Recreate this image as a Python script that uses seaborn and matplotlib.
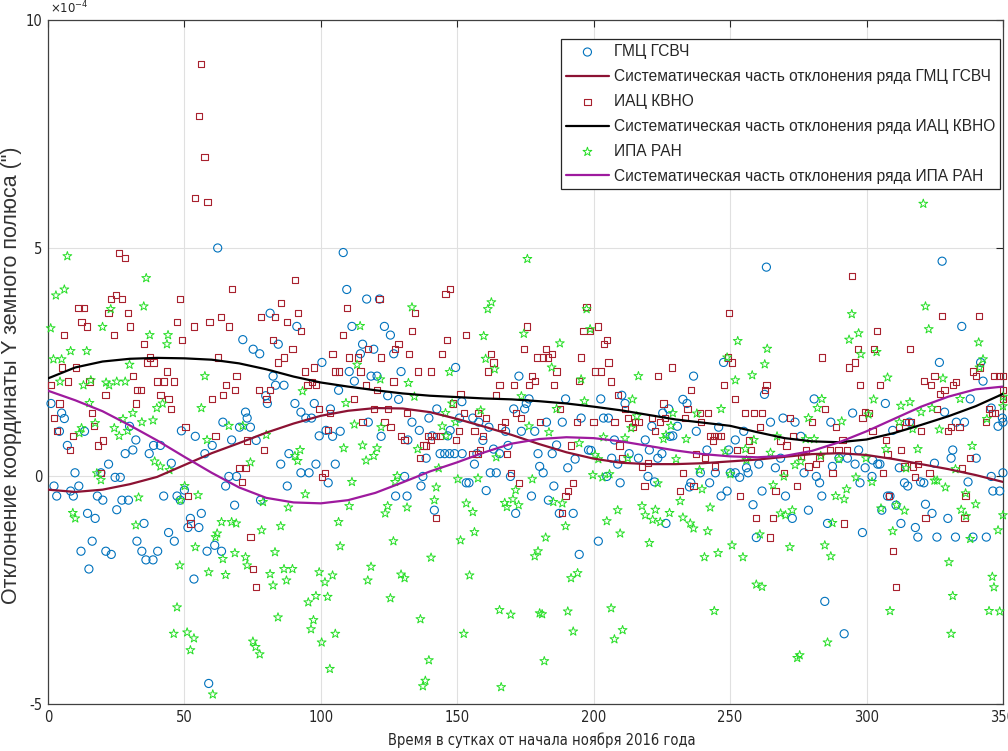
import matplotlib
matplotlib.use("Agg")
import matplotlib.pyplot as plt
import seaborn as sns
from matplotlib import font_manager

# ---------------- data (values in units of 1e-4 arcsec) ----------------
gmc_day = [1.1, 5.0, 6.0, 4.2, 13.4, 7.1, 2.2, 3.2, 8.3, 9.3, 9.9, 11.3, 22.2, 19.4, 24.6, 26.5, 18.1, 20.1, 27.1, 29.5,
           25.2, 14.5, 17.3, 12.1, 16.2, 21.2, 23.2, 15.0, 32.6, 34.4, 35.9, 38.5, 40.2, 35.2, 42.4, 28.3, 31.1, 32.2, 37.1, 38.7,
           41.2, 29.9,
           62.2, 71.4, 75.2, 77.6, 81.4, 84.4, 82.5, 83.4, 86.5, 79.8, 80.4, 72.4, 73.0, 64.1, 70.2, 74.2, 48.9, 54.0, 60.2, 67.3,
           76.3, 57.5, 45.2, 85.3, 88.3, 66.3, 69.1, 65.1, 87.7, 47.3, 48.5, 50.0, 68.4, 77.9, 56.2, 52.2, 51.3, 55.3, 44.2, 46.3,
           58.3, 61.1, 63.6, 53.5, 58.9,
           108.2, 109.5, 116.8, 121.5, 111.4, 91.2, 123.3, 125.5, 115.3, 119.4, 114.5, 126.7, 100.4, 110.4, 129.4, 118.4, 120.6,
           112.3, 106.5, 124.5, 128.5, 90.5, 97.6, 92.7, 94.5, 96.6, 103.5, 133.4, 117.4, 101.9, 107.1, 99.4, 104.3, 122.1, 131.9,
           98.2, 105.3, 92.7, 95.7, 102.7, 130.7, 127.4, 131.6,
           149.4, 172.6, 176.3, 170.7, 174.7, 175.3, 142.5, 139.6, 151.7, 150.8, 155.7, 157.9, 147.4, 146.5, 161.6, 159.4, 167.7,
           173.5, 178.4, 136.1, 140.8, 138.6, 143.7, 145.4, 147.2, 149.0, 151.8, 157.2, 156.3, 163.3, 168.6, 165.5, 179.6, 162.1,
           164.3, 153.3, 154.3, 169.5, 180.2, 136.7, 137.4, 160.6, 177.2, 141.6, 171.4,
           189.7, 202.6, 210.3, 211.5, 225.3, 182.7, 188.5, 195.4, 203.6, 205.4, 221.3, 186.4, 184.8, 193.2, 198.1, 199.0, 207.6,
           218.9, 220.4, 213.0, 206.6, 208.8, 216.4, 223.5, 225.0, 190.5, 181.5, 204.8, 209.7, 219.9, 222.3, 185.4, 183.4, 187.4,
           192.5, 226.5, 201.7, 194.7,
           263.3, 247.6, 236.6, 262.6, 232.7, 234.2, 227.5, 230.7, 229.0, 237.6, 245.8, 255.0, 264.8, 269.4, 251.9, 241.5, 249.5,
           228.0, 239.1, 244.6, 250.1, 253.5, 256.6, 256.0, 251.9, 260.5, 266.6, 268.5, 242.5, 235.6, 235.1, 248.9, 246.7, 261.7,
           270.3, 258.4, 272.8, 259.6,
           280.8, 294.9, 306.9, 273.8, 286.9, 275.9, 315.7, 309.6, 297.1, 287.5, 277.1, 289.9, 293.0, 295.8, 299.5, 302.2, 304.1,
           304.9, 312.0, 281.6, 282.8, 297.6, 302.0, 313.9, 315.1, 283.6, 307.7, 308.6, 310.8, 305.6, 278.7, 285.7, 312.6, 317.9,
           318.8, 298.5, 284.7, 291.8,
           327.7, 334.9, 326.7, 341.8, 342.7, 338.0, 328.6, 332.9, 335.9, 345.7, 349.8, 348.2, 350.0, 331.6, 331.0, 340.2, 324.9,
           319.8, 321.0, 337.2, 345.7, 346.3, 348.8, 350.0, 321.6, 324.0, 329.8, 325.8, 332.6, 339.0, 343.9]
gmc_val = [1.59, 1.38, 1.26, 0.98, 0.98, 0.67, -0.22, -0.44, -0.33, -0.44, 0.07, -0.22, 0.26, 0.07, -0.03, -0.03, -0.44, -0.53, -0.53, -0.53,
           -0.74, -0.82, -0.93, -1.65, -1.43, -1.65, -1.72, -2.04, -1.43, -1.65, -1.84, -1.84, -1.65, -1.04, -0.44, 0.49, 0.57, 0.79, 0.49, 0.67,
           0.67, 1.09,
           5.0, 2.99, 2.78, 2.68, 3.57, 2.89, 2.19, 1.99, 1.99, 1.76, 1.59, 1.40, 1.27, 1.18, 1.07, 1.07, 0.99, 0.87, 0.67, 0.79,
           0.78, 0.49, 0.28, 0.26, 0.49, -0.01, -0.01, -0.22, -0.22, -0.44, -0.53, -0.31, -0.64, -0.53, -0.82, -0.93, -1.13, -1.13, -1.24, -1.43,
           -1.65, -1.52, -1.65, -2.26, -4.55,
           4.90, 4.09, 3.88, 3.88, 3.28, 3.28, 3.28, 3.09, 2.89, 2.78, 2.68, 2.68, 2.49, 2.29, 2.29, 2.19, 2.19,
           2.08, 1.88, 1.76, 1.68, 1.59, 1.59, 1.40, 1.27, 1.27, 1.47, 1.18, 1.18, 1.00, 0.98, 0.88, 0.87, 0.87, 0.79,
           0.26, 0.26, 0.07, 0.07, -0.15, -0.01, -0.44, -0.44,
           2.38, 2.19, 1.69, 1.47, 1.47, 1.59, 1.47, 1.27, 1.63, 1.27, 1.27, 1.18, 1.00, 0.88, 1.07, 0.78, 0.98,
           0.98, 0.98, 1.00, 0.88, 0.39, 0.49, 0.49, 0.49, 0.49, 0.49, 0.49, 0.26, 0.59, 0.67, 0.49, 0.49, 0.07,
           0.07, -0.15, -0.15, -0.01, 0.21, -0.22, -0.01, -0.32, -0.44, -0.75, -0.82,
           1.69, 1.69, 1.77, 1.59, 1.38, 1.18, 1.18, 1.27, 1.27, 1.27, 1.09, 0.68, 0.49, 0.37, 0.57, 0.56, 0.79,
           0.79, 0.57, 0.49, 0.39, 0.26, 0.39, 0.39, 0.49, 0.18, 0.07, -0.01, -0.15, -0.01, -0.13, -0.22, -0.53, -0.82,
           -0.82, -1.04, -1.43, -1.72,
           4.58, 2.49, 2.19, 1.79, 1.68, 1.59, 1.47, 1.09, 0.88, 0.98, 1.07, 0.98, 1.18, 1.27, 0.79, 0.57, 0.57,
           0.87, 0.07, 0.07, 0.07, -0.03, 0.07, 0.18, 0.07, 0.26, 0.18, 0.39, -0.15, -0.15, -0.24, -0.33, -0.44, -0.33,
           -0.44, -0.63, -0.93, -1.35,
           1.69, 1.38, 1.59, 1.18, 1.18, 0.87, 1.18, 1.00, 0.57, 0.21, 0.07, 0.39, 0.39, 0.26, 0.18, 0.35, 0.26,
           0.26, 0.18, -0.01, -0.15, -0.15, -0.01, -0.15, -0.22, -0.44, -0.44, -0.44, -0.64, -0.75, -0.75, -1.04, -1.04, -1.13,
           -1.34, -1.24, -2.75, -3.46,
           4.71, 3.28, 2.49, 2.49, 2.08, 1.69, 1.40, 1.18, 1.18, 1.49, 1.27, 1.09, 1.18, 0.57, 0.39, 0.39, 0.28,
           -0.13, -0.15, -0.13, -0.01, -0.33, -0.33, 0.07, -0.62, -0.82, -0.93, -1.34, -1.34, -1.34, -1.34]

iac_day = [56.2, 55.3, 57.4, 54.0, 58.5,
           26.1, 28.3, 25.0, 23.2, 27.1, 11.2, 13.2, 22.2, 29.4, 12.3, 14.3, 30.2, 6.0, 24.3, 35.1, 37.3, 36.3, 38.7, 5.0, 10.2,
           31.1, 1.1, 7.2, 15.2, 39.9, 42.4, 32.6, 34.1, 21.1, 41.2, 4.2, 32.2, 16.1, 2.2, 16.9, 3.2, 9.3, 20.1, 18.3, 8.2, 19.4,
           67.3, 48.3, 85.3, 47.3, 53.5, 59.2, 63.3, 66.3, 78.0, 83.2, 87.5, 49.1, 82.5, 62.4, 86.5, 84.4, 69.1, 65.3, 43.6, 46.3,
           44.2, 45.2, 68.5, 64.1, 60.2, 77.3, 81.4, 80.1, 50.4, 61.4, 73.0, 79.3, 70.2, 72.4, 71.2, 51.3, 52.2, 74.2, 75.2, 76.1,
           90.5, 91.5, 92.7, 89.6, 109.5, 121.5, 134.6, 108.2, 133.4, 128.5, 127.2, 117.4, 132.3, 104.3, 122.1, 110.4, 113.5, 97.6,
           94.3, 105.2, 106.8, 114.5, 95.1, 98.2, 96.7, 116.6, 120.6, 126.6, 112.3, 99.4, 103.5, 119.4, 124.5, 131.5, 115.3, 123.3,
           125.5, 102.5, 129.4, 130.7, 101.5, 100.4,
           145.7, 147.4, 146.3, 153.3, 144.5, 175.7, 174.6, 162.5, 163.3, 161.2, 179.3, 135.5, 140.4, 177.4, 178.4, 165.5, 170.7,
           176.3, 151.2, 164.3, 148.4, 157.6, 152.4, 171.4, 173.5, 160.6, 167.4, 166.2, 156.3, 150.5, 149.4, 159.4, 180.2, 139.4,
           142.3, 143.7, 140.4, 137.6, 138.6, 136.4, 158.4, 155.4, 157.6, 168.2, 169.8, 172.5, 142.3,
           197.4, 201.7, 196.3, 198.7, 204.8, 203.7, 182.4, 184.6, 183.4, 181.5, 195.4, 205.4, 186.4, 200.5, 202.7, 194.6, 206.4,
           185.4, 223.5, 208.8, 187.6, 211.5, 225.6, 212.5, 216.4, 215.2, 221.3, 224.4, 226.2, 193.8, 199.9, 207.6, 214.2, 222.6,
           191.7, 209.5, 210.3, 217.7, 219.9, 192.5, 190.5, 189.7, 188.3, 218.6,
           249.5, 228.8, 249.1, 250.7, 247.9, 263.3, 262.7, 235.6, 251.7, 234.4, 239.1, 241.8, 255.6, 258.7, 261.7, 233.5, 239.4,
           260.9, 271.9, 242.5, 244.0, 245.6, 246.8, 243.7, 256.8, 252.5, 257.8, 268.5, 270.7, 237.6, 240.9, 244.6, 232.7, 236.6,
           231.7, 269.7, 266.6, 253.5, 259.6, 265.8, 264.5,
           294.6, 303.7, 296.9, 302.6, 315.9, 283.6, 295.8, 293.6, 297.7, 304.9, 284.7, 299.5, 300.7, 279.9, 298.5, 288.7, 316.3,
           312.0, 314.5, 302.2, 307.1, 291.2, 273.0, 277.7, 286.5, 289.7, 292.7, 312.6, 307.7, 275.9, 282.8, 281.6, 278.7, 318.8,
           316.9, 313.9, 287.5, 305.9, 317.9, 274.6, 308.3, 291.8, 309.8, 310.8,
           327.7, 341.1, 339.0, 341.7, 340.0, 324.9, 321.0, 323.7, 332.9, 331.6, 328.6, 327.0, 346.8, 348.5, 350.0, 350.0, 350.0,
           325.8, 344.9, 346.0, 347.0, 343.9, 320.0, 329.8, 331.0, 334.1, 338.0, 323.1, 334.9, 336.3, 321.6, 335.9]
iac_val = [9.03, 7.90, 7.00, 6.09, 6.01,
           4.89, 4.78, 3.97, 3.88, 3.88, 3.68, 3.68, 3.57, 3.57, 3.38, 3.28, 3.28, 3.09, 3.09, 2.89, 2.60, 2.49, 2.49, 2.38, 2.38,
           2.19, 1.99, 2.07, 2.07, 2.07, 2.07, 1.88, 1.88, 1.77, 1.77, 1.59, 1.59, 1.38, 1.27, 1.09, 0.98, 0.87, 0.78, 0.67, 0.57, 0.07,
           4.10, 3.88, 3.79, 3.38, 3.28, 3.38, 3.48, 3.28, 3.48, 3.48, 3.38, 2.98, 2.98, 2.60, 2.60, 2.49, 2.19, 1.99, 2.29, 2.07,
           1.68, 1.47, 1.88, 1.77, 1.68, 1.88, 1.88, 1.68, 1.07, 0.87, 0.78, 0.57, 0.18, 0.18, -0.13, -0.44, -1.04, -1.34, -2.04, -2.44,
           4.29, 3.57, 3.18, 2.78, 3.68, 3.88, 3.57, 3.09, 3.18, 2.89, 2.78, 2.78, 2.68, 2.68, 2.60, 2.60, 2.60, 2.38,
           2.29, 2.29, 2.29, 2.29, 1.99, 1.99, 2.06, 1.99, 1.88, 2.07, 1.68, 1.47, 1.38, 1.47, 1.47, 1.38, 1.18, 1.18,
           1.07, 1.00, 0.87, 0.79, 0.07, -0.03,
           3.99, 4.10, 2.98, 3.09, 2.68, 3.28, 2.78, 2.68, 2.49, 2.29, 2.60, 2.29, 2.29, 2.19, 2.08, 1.99, 1.99,
           1.99, 1.79, 1.77, 1.59, 1.38, 1.38, 1.38, 1.27, 1.27, 1.18, 1.07, 0.98, 0.98, 0.79, 0.87, 1.18, 0.88,
           0.88, 0.88, 0.79, 0.67, 0.67, 0.39, 0.57, 0.49, 0.49, 0.49, 0.07, -0.15, -0.93,
           3.70, 3.28, 3.18, 3.18, 2.98, 2.89, 2.78, 2.68, 2.60, 2.60, 2.60, 2.49, 2.29, 2.29, 2.29, 2.08, 2.07,
           1.99, 2.19, 1.77, 1.47, 1.47, 1.59, 1.27, 1.18, 1.18, 1.27, 1.18, 1.27, 1.18, 1.18, 1.18, 1.07, 0.98,
           0.67, 0.67, 0.39, 0.21, 0.29, -0.15, -0.33, -0.44, -0.82, -0.22,
           3.57, 2.38, 2.60, 2.49, 1.99, 1.99, 1.88, 1.88, 1.69, 1.47, 1.38, 1.38, 1.38, 1.38, 1.38, 1.27, 1.18,
           1.07, 1.27, 0.87, 0.87, 0.87, 0.87, 0.78, 0.78, 0.57, 0.57, 0.78, 0.67, 0.49, 0.39, 0.21, 0.07, -0.22,
           -0.33, 0.07, -0.33, -0.44, -0.93, -0.93, -1.35,
           4.39, 3.18, 2.78, 2.78, 2.78, 2.60, 2.49, 2.38, 1.99, 1.99, 1.47, 1.40, 1.38, 1.18, 1.27, 1.07, 1.18,
           1.07, 1.18, 0.98, 0.79, 0.79, 0.87, 0.57, 0.57, 0.57, 0.57, 0.57, 0.49, 0.44, 0.39, 0.26, 0.21, 0.26,
           0.21, 0.21, 0.07, 0.07, -0.03, -0.22, -0.44, -1.04, -1.65, -2.44,
           3.50, 3.50, 2.29, 2.38, 2.19, 2.19, 2.08, 1.99, 2.06, 1.99, 1.88, 1.79, 2.19, 2.19, 2.19, 1.88, 1.68,
           1.47, 1.47, 1.38, 1.38, 1.18, 0.98, 0.98, 1.07, 1.07, 0.39, 0.07, 0.18, -0.44, -0.93, -0.93]

ipa_day = [7.1, 36.0, 2.9, 6.0, 35.1, 23.0, 1.0, 20.0, 37.3, 8.3, 14.2, 2.0, 5.0, 29.9, 4.4, 13.0, 15.7, 21.3, 22.4, 25.2,
           28.3, 15.2, 39.9, 42.0, 31.1, 27.5, 17.3, 34.4, 38.5, 12.3, 11.5, 24.3, 26.1, 29.2, 39.1, 41.2, 17.9, 19.4, 33.2, 9.1,
           10.0, 32.2,
           44.0, 43.6, 57.5, 56.2, 66.3, 71.4, 58.3, 80.0, 74.2, 44.5, 50.1, 55.0, 48.5, 78.8, 88.1, 63.6, 67.3, 69.0, 78.3, 85.3,
           62.0, 61.4, 54.0, 64.1, 68.5, 72.4, 73.0, 83.2, 48.3, 58.9, 65.1, 81.4, 86.5, 82.5, 87.4, 47.3, 46.1, 51.0, 53.5, 52.2,
           84.3, 75.1, 76.1, 77.6, 60.4,
           133.4, 114.4, 113.3, 121.8, 132.1, 93.3, 134.3, 109.2, 112.3, 122.1, 108.4, 115.3, 120.6, 119.4, 116.6, 92.4, 90.5,
           91.5, 111.4, 128.0, 127.2, 94.3, 110.4, 124.5, 123.6, 131.6, 106.5, 107.1, 126.6, 89.6, 99.4, 101.5, 104.3, 118.4,
           117.2, 129.4, 130.7, 95.4, 98.2, 102.5, 125.5, 97.3, 96.4, 105.3, 100.3, 103.3,
           175.7, 162.5, 161.2, 174.4, 159.7, 160.4, 163.7, 147.2, 173.5, 148.1, 158.6, 145.7, 144.5, 145.9, 149.4, 176.3, 135.5,
           164.3, 143.2, 150.2, 157.6, 177.5, 142.3, 141.6, 153.3, 155.7, 171.4, 170.4, 167.4, 168.2, 172.5, 156.3, 151.2, 140.4,
           154.5, 179.6, 178.4, 165.5, 169.6, 180.2, 152.4, 136.5, 139.6, 138.3, 137.4, 166.1,
           197.4, 198.7, 187.6, 184.6, 195.4, 216.4, 196.6, 186.4, 214.2, 215.8, 213.7, 183.6, 203.6, 211.5, 225.6, 226.5, 194.7,
           200.5, 201.7, 212.5, 199.7, 203.2, 205.8, 223.5, 185.2, 188.5, 208.8, 217.7, 218.9, 222.6, 221.6, 224.4, 204.8, 189.7,
           182.4, 209.7, 220.4, 194.1, 191.7, 190.5, 181.1, 192.5, 206.4, 210.6, 207.6, 181.9,
           252.8, 263.6, 248.9, 262.7, 258.1, 251.9, 246.7, 229.0, 237.8, 228.3, 233.9, 267.2, 248.2, 255.6, 258.7, 264.8, 230.2,
           238.8, 250.1, 256.0, 269.7, 265.8, 239.7, 231.7, 242.7, 227.8, 232.7, 235.4, 236.6, 241.8, 268.5, 270.3, 260.9, 250.7,
           245.6, 240.6, 254.7, 271.9, 259.6, 261.7, 244.2,
           294.6, 297.1, 293.6, 297.9, 303.7, 307.7, 302.6, 283.6, 282.0, 278.7, 290.9, 312.6, 315.9, 300.7, 312.0, 316.9, 277.7,
           280.8, 307.1, 318.8, 283.2, 275.9, 289.9, 299.8, 273.8, 314.5, 296.1, 302.0, 288.7, 292.7, 291.8, 305.3, 311.0, 313.9,
           309.6, 287.5, 284.7, 286.9, 308.6, 285.7, 275.5, 274.6, 272.8,
           320.8, 321.6, 322.8, 341.1, 342.7, 341.4, 328.0, 334.3, 324.0, 350.0, 350.0, 320.0, 344.1, 326.7, 338.7, 332.6, 324.9,
           325.9, 328.9, 336.3, 340.0, 334.7, 336.5, 350.0, 338.0, 348.2, 330.2, 346.1, 346.7, 331.6, 344.9, 348.8, 331.0]
ipa_val = [4.82, 4.34, 3.96, 4.09, 3.72, 3.66, 3.24, 3.27, 3.09, 2.74, 2.74, 2.56, 2.56, 2.44, 2.07, 1.99, 2.10, 2.05, 1.99, 2.07,
           2.07, 1.60, 1.49, 1.59, 1.38, 1.25, 1.16, 1.18, 1.22, 1.05, 0.94, 1.05, 0.88, 0.99, 0.32, 0.21, 0.06, -0.09, -0.47, -0.81,
           -0.93, -1.08,
           3.09, 2.89, 2.19, 1.49, 1.10, 1.10, 0.79, 0.90, 0.30, 0.13, -0.22, -0.42, -0.53, -0.57, -0.69, -1.01, -1.01, -1.04, -1.19, -1.10,
           -1.26, -1.34, -1.56, -1.82, -1.69, -1.78, -1.96, -1.67, -1.96, -2.11, -2.17, -2.15, -2.04, -2.40, -2.29, -2.88, -3.46, -3.43, -3.56, -3.82,
           -3.10, -3.63, -3.75, -3.91, -4.79,
           3.70, 3.29, 2.44, 2.12, 2.04, 1.86, 1.74, 1.60, 1.13, 1.07, 0.61, 0.67, 0.61, 0.44, 0.34, 0.57, 0.44,
           0.33, -0.13, 0.00, -0.13, -0.40, -0.66, -0.66, -0.82, -0.69, -1.01, -1.54, -1.43, -2.04, -2.11, -2.33, -2.18, -1.99,
           -2.29, -2.16, -2.24, -2.77, -2.63, -2.65, -2.68, -3.16, -3.36, -3.46, -3.65, -4.23,
           4.76, 3.81, 3.66, 3.12, 3.07, 2.57, 2.34, 2.28, 1.75, 1.59, 1.44, 1.38, 1.09, 0.88, 1.18, 1.09, 0.59,
           0.41, 0.17, -0.07, -0.05, -0.07, -0.25, -0.53, -0.60, -0.79, -0.31, -0.51, -0.59, -0.68, -0.64, -1.23, -1.41, -1.79,
           -2.18, -1.65, -1.76, -2.94, -3.04, -3.01, -3.46, -3.14, -4.04, -4.49, -4.61, -4.63,
           3.66, 3.22, 2.91, 2.38, 2.12, 2.19, 1.64, 1.47, 1.68, 1.31, 1.05, 0.96, 0.85, 0.83, 0.81, 0.90, 0.72,
           0.46, 0.37, 0.39, 0.02, -0.03, 0.04, -0.16, -0.57, -0.60, -0.75, -0.66, -0.86, -0.74, -0.96, -1.01, -0.99, -1.10,
           -1.35, -1.26, -1.47, -2.13, -2.24, -2.97, -3.03, -3.41, -2.90, -3.38, -3.58, -4.06,
           2.96, 2.79, 2.60, 2.45, 2.21, 2.10, 1.47, 1.38, 1.37, 1.10, 0.81, 0.87, 0.54, 0.59, 0.79, 0.51, 0.37,
           0.13, 0.04, 0.35, -0.01, -0.20, -0.29, -0.55, -0.69, -0.81, -0.91, -1.04, -1.15, -1.21, -0.82, -0.86, -1.28, -1.52,
           -1.69, -1.78, -1.78, -1.56, -2.38, -2.43, -2.96,
           3.55, 3.13, 2.99, 2.67, 2.72, 2.16, 1.68, 1.69, 1.49, 1.27, 1.20, 1.54, 1.62, 1.35, 1.18, 1.03, 0.81,
           0.81, 0.59, 0.59, 0.44, 0.32, 0.37, 0.39, 0.24, 0.17, -0.03, -0.13, -0.44, -0.29, -0.51, -0.71, -0.64, -0.76,
           -1.21, -1.03, -1.52, -1.76, -2.96, -3.65, -3.93, -3.99, -0.75,
           5.97, 3.72, 3.22, 2.93, 2.56, 2.38, 2.14, 1.69, 1.49, 1.74, 1.53, 1.40, 1.25, 1.02, 0.66, 0.15, -0.10,
           -0.10, -0.25, -0.38, -0.62, -0.74, -0.88, -0.86, -1.38, -1.19, -1.89, -2.21, -2.44, -2.63, -2.96, -2.97, -3.46]

# systematic parts read every 10 days
fit_day = [0, 10, 20, 30, 40, 50, 60, 70, 80, 90, 100, 110, 120, 130, 140, 150, 160, 170, 180,
           190, 200, 210, 220, 230, 240, 250, 260, 270, 280, 290, 300, 310, 320, 330, 340, 350]
gmc_fit = [-0.30, -0.35, -0.30, -0.18, -0.02, 0.24, 0.50, 0.72, 0.95, 1.15, 1.32, 1.43, 1.49, 1.48, 1.40, 1.25, 1.08,
           0.90, 0.70, 0.52, 0.38, 0.29, 0.26, 0.26, 0.28, 0.32, 0.36, 0.42, 0.48, 0.50, 0.46, 0.37, 0.26, 0.15, 0.02, -0.13]
iac_fit = [2.14, 2.38, 2.51, 2.57, 2.59, 2.58, 2.55, 2.47, 2.34, 2.18, 2.05, 1.96, 1.88, 1.81, 1.76, 1.73, 1.70,
           1.68, 1.64, 1.59, 1.52, 1.44, 1.34, 1.24, 1.17, 1.10, 0.96, 0.83, 0.76, 0.74, 0.80, 0.94, 1.12, 1.31, 1.53, 1.80]
ipa_fit = [1.87, 1.66, 1.42, 1.11, 0.78, 0.42, 0.07, -0.25, -0.48, -0.58, -0.60, -0.53, -0.37, -0.14, 0.10, 0.30, 0.52,
           0.71, 0.81, 0.85, 0.83, 0.76, 0.66, 0.56, 0.48, 0.43, 0.41, 0.44, 0.55, 0.74, 0.98, 1.25, 1.52, 1.74, 1.90, 1.96]

lbl_gmc = "ГМЦ ГСВЧ"
lbl_gmc_fit = "Систематическая часть отклонения ряда ГМЦ ГСВЧ"
lbl_iac = "ИАЦ КВНО"
lbl_iac_fit = "Систематическая часть отклонения ряда ИАЦ КВНО"
lbl_ipa = "ИПА РАН"
lbl_ipa_fit = "Систематическая часть отклонения ряда ИПА РАН"
x_ticks = [0, 50, 100, 150, 200, 250, 300, 350]
y_ticks = [-5, 0, 5, 10]
x_label = "Время в сутках от начала ноября 2016 года"
y_label = "Отклонение координаты Y земного полюса (\")"

# ---------------- style ----------------
sns.set_style("white")
names = {f.name for f in font_manager.fontManager.ttflist}
plt.rcParams['font.family'] = ['Liberation Sans', 'DejaVu Sans']
plt.rcParams['axes.unicode_minus'] = False
if 'Liberation Sans Narrow' in names:
    narrow = dict(family=['Liberation Sans Narrow', 'DejaVu Sans'])
else:
    narrow = dict(family=['DejaVu Sans'], stretch='condensed')

C_BLUE = (0.0, 0.447, 0.741)
C_RED = (0.66, 0.13, 0.18)
C_GREEN = (0.15, 0.87, 0.15)
C_DRED = (0.55, 0.07, 0.20)
C_BLACK = (0.0, 0.0, 0.0)
C_PURP = (0.62, 0.10, 0.62)

fig = plt.figure(figsize=(10.08, 7.51), dpi=100)
ax = fig.add_axes([0.0476, 0.0626, 0.9474, 0.9108])

sns.scatterplot(x=gmc_day, y=gmc_val, ax=ax, marker='o', s=34, facecolors='none',
                edgecolor=C_BLUE, linewidth=0.8, label=lbl_gmc, clip_on=False, zorder=3)
sns.lineplot(x=fit_day, y=gmc_fit, ax=ax, color=C_DRED, linewidth=1.6, label=lbl_gmc_fit, zorder=4)
sns.scatterplot(x=iac_day, y=iac_val, ax=ax, marker='s', s=20, facecolors='none',
                edgecolor=C_RED, linewidth=0.8, label=lbl_iac, clip_on=False, zorder=3)
sns.lineplot(x=fit_day, y=iac_fit, ax=ax, color=C_BLACK, linewidth=1.6, label=lbl_iac_fit, zorder=4)
sns.scatterplot(x=ipa_day, y=ipa_val, ax=ax, marker='*', s=45, facecolors='none',
                edgecolor=C_GREEN, linewidth=0.7, label=lbl_ipa, clip_on=False, zorder=3)
sns.lineplot(x=fit_day, y=ipa_fit, ax=ax, color=C_PURP, linewidth=1.6, label=lbl_ipa_fit, zorder=4)

ax.set_xlim(0, 350)
ax.set_ylim(-5, 10)
ax.set_xticks(x_ticks)
ax.set_yticks(y_ticks)
ax.set_xticklabels([str(t) for t in x_ticks], fontsize=10.5, color='#262626', **narrow)
ax.set_yticklabels([str(t) for t in y_ticks], fontsize=10.5, color='#262626', **narrow)
ax.grid(True, color='#e0e0e0', linewidth=0.8)
ax.set_axisbelow(True)
ax.tick_params(direction='in', top=True, right=True, length=5, width=0.8, color='#262626', pad=4)
for sp in ax.spines.values():
    sp.set_color('#404040')
    sp.set_linewidth(0.9)

ax.set_xlabel(x_label, fontsize=10.5, color='#262626', **narrow)
ax.xaxis.set_label_coords(0.517, -0.042)
ax.set_ylabel(y_label, fontsize=15.5, color='#333333')
ax.yaxis.set_label_coords(-0.027, 0.481)
ax.text(0.002, 1.006, r"$\times10^{-4}$", transform=ax.transAxes, fontsize=8.5, color='#262626',
        ha='left', va='bottom')

h, l = ax.get_legend_handles_labels()
leg = ax.legend(h, l, loc='upper right', bbox_to_anchor=(0.997, 0.972), fontsize=11.2,
                frameon=True, fancybox=False, framealpha=1, edgecolor='#262626',
                handlelength=2.8, handletextpad=0.3, labelspacing=0.64, borderpad=0.32,
                borderaxespad=0.0, scatterpoints=1)
leg.get_frame().set_linewidth(0.9)

fig.savefig("out.png", dpi=100)
